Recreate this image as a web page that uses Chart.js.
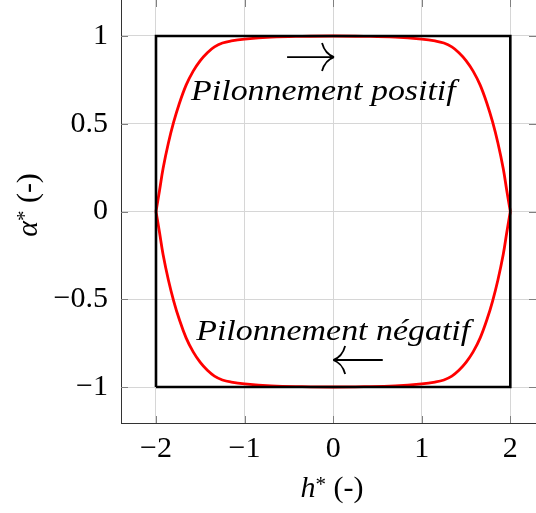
<!DOCTYPE html>
<html>
<head>
<meta charset="utf-8">
<script src="https://cdn.jsdelivr.net/npm/chart.js@4.4.1/dist/chart.umd.min.js"></script>
<style>
  html, body { margin: 0; padding: 0; background: #fff; }
</style>
</head>
<body>
<canvas id="chart" width="536" height="513"></canvas>
<script>
// tick labels
const xTicks = [-2, -1, 0, 1, 2];
const yTicks = [-1, -0.5, 0, 0.5, 1];

// square envelope (black)
const boxX = [-2, 2, 2, -2, -2];
const boxY = [-1, -1, 1, 1, -1];

// red loop, upper branch (left to right) and lower branch (right to left)
const upperX = [-2, -1.96, -1.92, -1.86, -1.8, -1.74, -1.66, -1.58, -1.5, -1.42, -1.34, -1.25, -1.15, -1.0, -0.7, -0.35, 0,
                0.35, 0.7, 1.0, 1.15, 1.25, 1.34, 1.42, 1.5, 1.58, 1.66, 1.74, 1.8, 1.86, 1.92, 1.96, 2];
const upperY = [0, 0.12, 0.245, 0.39, 0.51, 0.61, 0.72, 0.8, 0.86, 0.905, 0.938, 0.96, 0.972, 0.982, 0.993, 0.998, 1.0,
                0.998, 0.993, 0.982, 0.972, 0.96, 0.938, 0.905, 0.86, 0.8, 0.72, 0.61, 0.51, 0.39, 0.245, 0.12, 0];
const lowerX = [2, 1.96, 1.92, 1.86, 1.8, 1.74, 1.66, 1.58, 1.5, 1.42, 1.34, 1.25, 1.15, 1.0, 0.7, 0.35, 0,
                -0.35, -0.7, -1.0, -1.15, -1.25, -1.34, -1.42, -1.5, -1.58, -1.66, -1.74, -1.8, -1.86, -1.92, -1.96, -2];
const lowerY = [0, -0.12, -0.245, -0.39, -0.51, -0.61, -0.72, -0.8, -0.86, -0.905, -0.938, -0.96, -0.972, -0.982, -0.993, -0.998, -1.0,
                -0.998, -0.993, -0.982, -0.972, -0.96, -0.938, -0.905, -0.86, -0.8, -0.72, -0.61, -0.51, -0.39, -0.245, -0.12, 0];

// annotations (data coordinates)
const noteText = ['Pilonnement positif', 'Pilonnement négatif'];
const noteX = [-0.11, 0];
const noteY = [0.68, -0.69];
const arrowFrom = [-0.52, 0.56];
const arrowTo = [0.01, 0.0];
const arrowY = [0.88, -0.846];

const SERIF = '"Liberation Serif", "DejaVu Serif", serif';

const toPoints = (xs, ys) => xs.map((v, i) => ({ x: v, y: ys[i] }));
const fmt = v => (v < 0 ? '\u2212' : '') + Math.abs(v);

// draw a run of text pieces with mixed styles, centred on (cx, cy)
function drawPieces(ctx, pieces, cx, cy, angle) {
    ctx.save();
    ctx.translate(cx, cy);
    ctx.rotate(angle);
    ctx.textBaseline = 'alphabetic';
    ctx.textAlign = 'left';
    let total = 0;
    pieces.forEach(p => { ctx.font = p.font; p.w = ctx.measureText(p.t).width; total += p.w; });
    let pos = -total / 2;
    pieces.forEach(p => {
        ctx.font = p.font;
        ctx.fillText(p.t, pos, p.dy || 0);
        pos += p.w;
    });
    ctx.restore();
}

function drawArrow(ctx, x0, x1, y) {
    const d = x1 > x0 ? 1 : -1;
    ctx.beginPath();
    ctx.moveTo(x0, y);
    ctx.lineTo(x1, y);
    ctx.moveTo(x1 - d * 12, y - 14);
    ctx.quadraticCurveTo(x1 - d * 9, y - 3, x1, y);
    ctx.moveTo(x1 - d * 12, y + 14);
    ctx.quadraticCurveTo(x1 - d * 9, y + 3, x1, y);
    ctx.stroke();
}

const decor = {
    id: 'decor',
    beforeDatasetsDraw(chart) {
        const { ctx, chartArea: a, scales: { x, y } } = chart;
        ctx.save();
        ctx.strokeStyle = '#808080';
        ctx.lineWidth = 1;
        ctx.beginPath();
        xTicks.forEach(v => {
            const px = Math.round(x.getPixelForValue(v)) + 0.5;
            ctx.moveTo(px, a.bottom); ctx.lineTo(px, a.bottom - 7);
            ctx.moveTo(px, a.top); ctx.lineTo(px, a.top + 7);
        });
        yTicks.forEach(v => {
            const py = Math.round(y.getPixelForValue(v)) + 0.5;
            ctx.moveTo(a.left, py); ctx.lineTo(a.left + 7, py);
            ctx.moveTo(a.right, py); ctx.lineTo(a.right - 7, py);
        });
        ctx.stroke();
        ctx.restore();
    },
    afterDatasetsDraw(chart) {
        const { ctx, scales: { x, y } } = chart;
        ctx.save();
        ctx.fillStyle = '#000';
        ctx.strokeStyle = '#000';
        ctx.lineWidth = 1.8;
        ctx.font = 'italic 30px ' + SERIF;
        ctx.textAlign = 'center';
        ctx.textBaseline = 'middle';
        noteText.forEach((t, i) => {
            const px = x.getPixelForValue(noteX[i]);
            const py = y.getPixelForValue(noteY[i]);
            // slightly wider lettering, closer to the original italic face
            ctx.save();
            ctx.translate(px, py);
            ctx.scale(1.13, 1);
            ctx.fillText(t, 0, 0);
            ctx.restore();
            drawArrow(ctx, x.getPixelForValue(arrowFrom[i]), x.getPixelForValue(arrowTo[i]), y.getPixelForValue(arrowY[i]));
        });
        ctx.restore();
    },
    afterDraw(chart) {
        const { ctx } = chart;
        ctx.save();
        ctx.fillStyle = '#000';
        drawPieces(ctx, [
            { t: 'h', font: 'italic 30px ' + SERIF },
            { t: '*', font: '21px ' + SERIF, dy: -6 },
            { t: ' (-)', font: '30px ' + SERIF }
        ], 332, 497, 0);
        drawPieces(ctx, [
            { t: '\u03b1', font: 'italic 30px ' + SERIF },
            { t: '*', font: '21px ' + SERIF, dy: -6 },
            { t: ' (-)', font: '30px ' + SERIF }
        ], 37, 205, -Math.PI / 2);
        ctx.restore();
    }
};

const ctx = document.getElementById('chart').getContext('2d');
new Chart(ctx, {
    type: 'scatter',
    data: {
        datasets: [
            {
                data: toPoints(boxX, boxY),
                showLine: true,
                borderColor: '#000',
                borderWidth: 2.6,
                pointRadius: 0,
                tension: 0
            },
            {
                data: toPoints(upperX, upperY),
                showLine: true,
                borderColor: '#ff0000',
                borderWidth: 2.8,
                pointRadius: 0,
                tension: 0.4
            },
            {
                data: toPoints(lowerX, lowerY),
                showLine: true,
                borderColor: '#ff0000',
                borderWidth: 2.8,
                pointRadius: 0,
                tension: 0.4
            }
        ]
    },
    options: {
        responsive: false,
        animation: false,
        devicePixelRatio: 1,
        layout: { padding: 0 },
        plugins: {
            legend: { display: false },
            tooltip: { enabled: false }
        },
        scales: {
            x: {
                type: 'linear',
                min: -2.395,
                max: 2.29,
                afterBuildTicks: s => { s.ticks = xTicks.map(v => ({ value: v })); },
                afterFit: s => { s.height = 90; s.paddingLeft = 0; s.paddingRight = 0; },
                grid: { color: '#d6d6d6', lineWidth: 1, drawTicks: false },
                border: { display: true, color: '#333', width: 1 },
                ticks: {
                    padding: 8,
                    color: '#000',
                    font: { family: SERIF, size: 30 },
                    callback: fmt
                }
            },
            y: {
                type: 'linear',
                min: -1.205,
                max: 1.205,
                afterBuildTicks: s => { s.ticks = yTicks.map(v => ({ value: v })); },
                afterFit: s => { s.width = 121; s.paddingTop = 0; s.paddingBottom = 0; },
                grid: { color: '#d6d6d6', lineWidth: 1, drawTicks: false },
                border: { display: true, color: '#333', width: 1 },
                ticks: {
                    padding: 13,
                    color: '#000',
                    font: { family: SERIF, size: 30 },
                    callback: fmt
                }
            }
        }
    },
    plugins: [decor]
});
</script>
</body>
</html>
